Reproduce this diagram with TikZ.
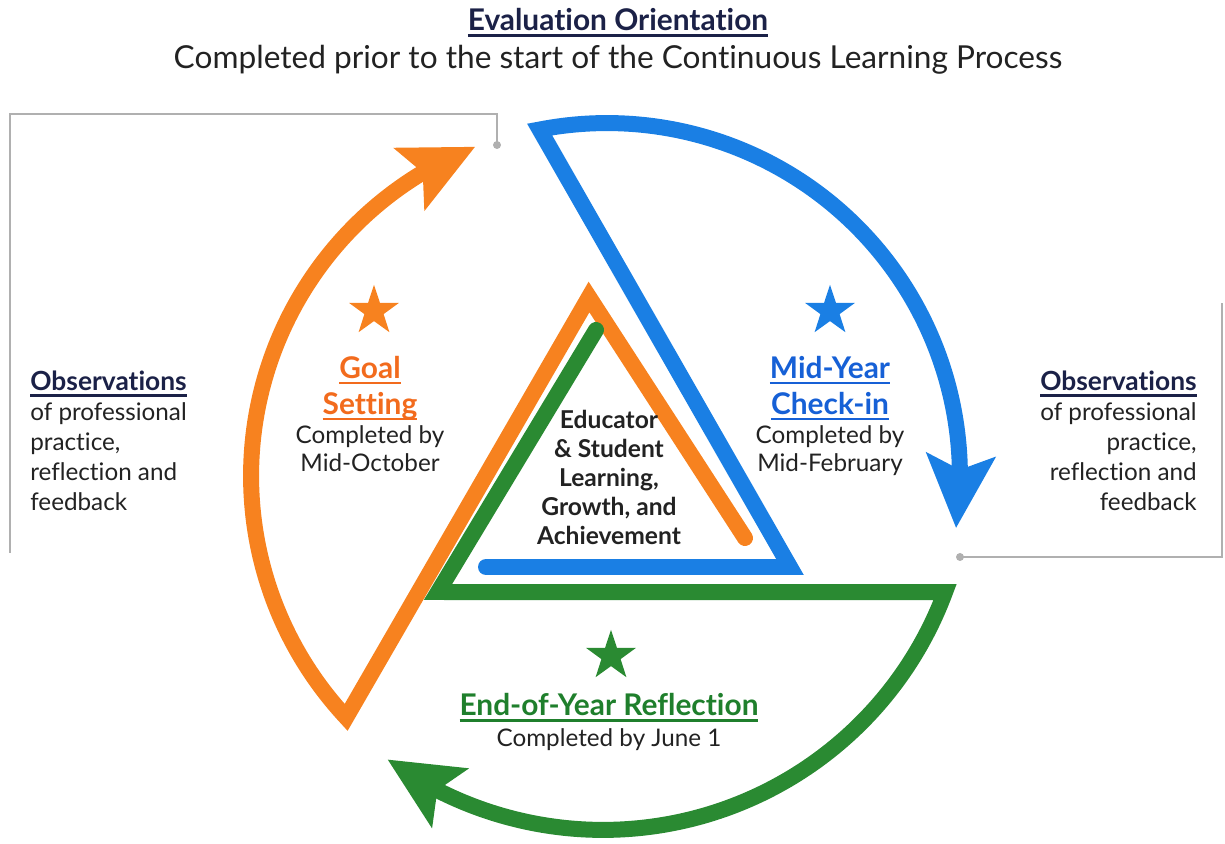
\documentclass[tikz,border=0pt]{standalone}
\usepackage{fontspec}
\setmainfont{Lato}[Ligatures=NoCommon]
\usetikzlibrary{positioning,calc,arrows.meta,bending,shapes.geometric}

\definecolor{bandorange}{HTML}{F7821F}
\definecolor{bandblue}{HTML}{1A7FE4}
\definecolor{bandgreen}{HTML}{2A8A32}
\definecolor{headorange}{HTML}{F26B1D}
\definecolor{headblue}{HTML}{1660D6}
\definecolor{headgreen}{HTML}{1F7F2C}
\definecolor{navy}{HTML}{1B2147}
\definecolor{bodytext}{HTML}{222222}
\definecolor{linegray}{HTML}{B0B0B0}

% underline with a heavier rule
\newcommand{\uln}[1]{\setbox0\hbox{#1}\rlap{\rule[-3.2pt]{\wd0}{1.3pt}}\box0}

\tikzset{
  band/.style={line width=0.32cm, line cap=round, line join=miter},
  bigtip/.style={-{Stealth[length=1.45cm, width=1.35cm, inset=0.28cm]}},
  bracket/.style={draw=linegray, line width=0.04cm},
  dot/.style={circle, fill=linegray, inner sep=0, minimum size=0.16cm},
  badge/.style={star, star points=5, star point ratio=2.6, inner sep=0, minimum size=1.05cm},
  heading/.style={font=\bfseries\fontsize{17}{20.5}\selectfont, align=center, inner sep=0},
  date/.style={font=\fontsize{13.8}{16}\selectfont, text=bodytext, align=center, inner sep=0},
  obs/.style={font=\fontsize{13.8}{17}\selectfont, text=bodytext, inner sep=0},
}

\begin{document}
\begin{tikzpicture}[x=0.02cm, y=0.02cm]
\useasboundingbox (0,0) rectangle (1225,-844);

% centres of the three arcs
\coordinate (oc) at (605,-476);
\coordinate (bc) at (607,-476);
\coordinate (gc) at (603,-465);

% inner ends and corners
\coordinate (oend) at (745,-538);
\coordinate (oapex) at (589,-297);
\coordinate (bend) at (486,-567);
\coordinate (bcorner) at (790,-567);
\coordinate (gend) at (596,-330);
\coordinate (gcorner) at (438,-592);

% title
\node[font=\bfseries\fontsize{17}{20}\selectfont, text=navy, anchor=base] (title) at (618,-31) {\uln{Evaluation Orientation}};
\node[font=\fontsize{18}{20}\selectfont, text=bodytext, anchor=base] (subtitle) at (618,-69) {Completed prior to the start of the Continuous Learning Process};

% brackets
\node[dot] (ldot) at (497,-145) {};
\coordinate (lk1) at (497,-114);
\coordinate (lk2) at (10,-114);
\coordinate (lk3) at (10,-553);
\draw[bracket] (ldot.center) -- (lk1) -- (lk2) -- (lk3);
\node[dot] (rdot) at (960,-557) {};
\coordinate (rk1) at (1222,-557);
\coordinate (rk2) at (1222,-303);
\draw[bracket] (rdot.center) -- (rk1) -- (rk2);

% bands
\draw[band, bigtip, draw=bandorange] (oend) -- (oapex) -- ($(oc)+(223:7.08cm)$) arc[start angle=223, end angle=111.5, radius=7.08cm];
\draw[band, bigtip, draw=bandblue] (bend) -- (bcorner) -- ($(bc)+(101:7.06cm)$) arc[start angle=101, end angle=-8.5, radius=7.06cm];
\draw[band, bigtip, draw=bandgreen] (gend) -- (gcorner) -- ($(gc)+(-20.4:7.3cm)$) arc[start angle=-20.4, end angle=-126.2, radius=7.3cm];

% stars
\node[badge, fill=bandorange] (ostar) at (374,-311) {};
\node[badge, fill=bandblue] (bstar) at (830,-311) {};
\node[badge, fill=bandgreen] (gstar) at (611,-656) {};

% stage texts
\node[heading, text=headorange, anchor=north] (goal) at (370,-356) {\uln{Goal}\\\uln{Setting}};
\node[date, below=0.1cm of goal] (goaldate) {Completed by\\Mid-October};
\node[heading, text=headblue, anchor=north] (mid) at (830,-356) {\uln{Mid-Year}\\\uln{Check-in}};
\node[date, below=0.1cm of mid] (middate) {Completed by\\Mid-February};
\node[heading, text=headgreen, anchor=base] (eoy) at (609,-716) {\uln{End-of-Year Reflection}};
\node[date, below=0.12cm of eoy] (eoydate) {Completed by June 1};

% centre
\node[font=\bfseries\fontsize{14}{16.5}\selectfont, text=bodytext, align=center, inner sep=0, anchor=north] (core) at (609,-410) {Educator\\\& Student\\Learning,\\Growth, and\\Achievement};

% observations
\node[obs, anchor=north west, align=left] (obsl) at (30,-371) {\textcolor{navy}{\bfseries\fontsize{15}{17}\selectfont\uln{Observations}}\\of professional\\practice,\\reflection and\\feedback};
\node[obs, anchor=north east, align=right] (obsr) at (1197,-371) {\textcolor{navy}{\bfseries\fontsize{15}{17}\selectfont\uln{Observations}}\\of professional\\practice,\\reflection and\\feedback};
\end{tikzpicture}
\end{document}
